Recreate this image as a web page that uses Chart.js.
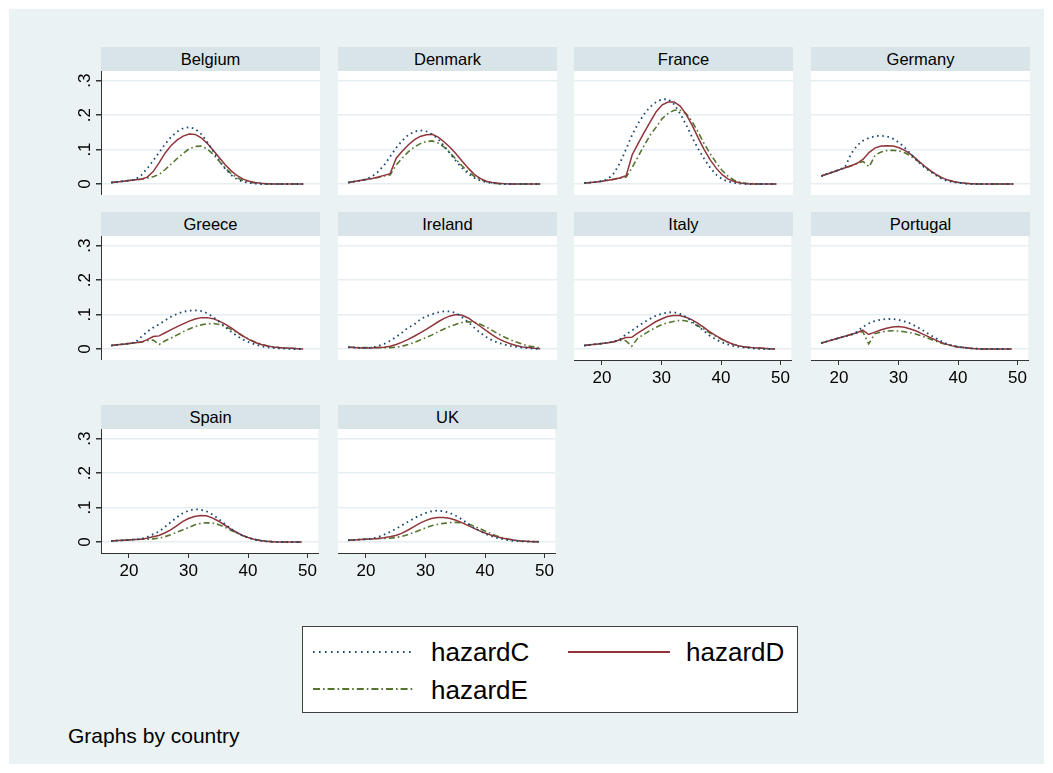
<!DOCTYPE html>
<html>
<head>
<meta charset="utf-8">
<title>hazard by country</title>
<script src="https://cdn.jsdelivr.net/npm/chart.js@4.4.1/dist/chart.umd.min.js"></script>
<style>
    body { margin: 0; background: #ffffff; font-family: "Liberation Sans", Arial, sans-serif; }
    #frame { position: absolute; left: 9px; top: 9px; width: 1035px; height: 755px; background: #eaf2f3; }
    .strip { position: absolute; height: 24px; line-height: 24px; background: #d9e4e9; color: #000; font-size: 16.5px; font-weight: normal; text-align: center; }
    canvas.panel { position: absolute; }
    #legend { position: absolute; left: 302px; top: 626px; width: 494px; height: 85px; background: #fff; border: 1px solid #404040; }
    .key { position: absolute; font-size: 26px; line-height: 30px; color: #000; }
    #note { position: absolute; left: 68px; top: 724px; font-size: 21px; line-height: 24px; color: #000; }
</style>
</head>
<body>
<div id="frame"></div>
<div id="panels"></div>
<div id="legend">
    <svg width="494" height="85" style="position:absolute;left:0;top:0">
        <line x1="10" y1="25" x2="112" y2="25" stroke="#1a476f" stroke-width="2" stroke-dasharray="1.6 4.4"></line>
        <line x1="265" y1="25" x2="367" y2="25" stroke="#90353b" stroke-width="2"></line>
        <line x1="10" y1="62" x2="112" y2="62" stroke="#55752f" stroke-width="2" stroke-dasharray="7 3 1.6 3"></line>
    </svg>
    <div class="key" style="left:128px;top:10px">hazardC</div>
    <div class="key" style="left:383px;top:10px">hazardD</div>
    <div class="key" style="left:128px;top:48px">hazardE</div>
</div>
<div id="note">Graphs by country</div>

<script>
Chart.defaults.font.family = '"Liberation Sans", Arial, sans-serif';

const ages = [17, 18, 19, 20, 21, 22, 23, 24, 25, 26, 27, 28, 29, 30, 31, 32, 33,
    34, 35, 36, 37, 38, 39, 40, 41, 42, 43, 44, 45, 46, 47, 48, 49];
const xTicks = [20, 30, 40, 50];
const yTicks = [0, 0.1, 0.2, 0.3];
const yTickLabels = ['0', '.1', '.2', '.3'];
const countries = ['Belgium', 'Denmark', 'France', 'Germany', 'Greece',
    'Ireland', 'Italy', 'Portugal', 'Spain', 'UK'];
const seriesNames = ['hazardC', 'hazardD', 'hazardE'];

// ages 17-27 / 28-38 / 39-49
const belgiumC = [.004, .006, .008, .010, .013, .025, .045, .068, .092, .116, .137,
    .152, .162, .165, .160, .145, .122, .095, .068, .044, .026, .013,
    .006, .003, .001, 0, 0, 0, 0, 0, 0, 0, 0];
const belgiumD = [.004, .006, .008, .010, .012, .014, .020, .036, .062, .090, .112,
    .128, .139, .145, .144, .134, .118, .098, .077, .056, .038, .024,
    .014, .008, .004, .002, .001, 0, 0, 0, 0, 0, 0];
const belgiumE = [.004, .006, .008, .010, .012, .014, .017, .021, .028, .042, .058,
    .074, .089, .102, .109, .110, .102, .086, .066, .046, .030, .018,
    .010, .005, .003, .001, 0, 0, 0, 0, 0, 0, 0];

const denmarkC = [.004, .007, .010, .014, .022, .036, .055, .080, .105, .126, .142,
    .152, .156, .153, .144, .130, .110, .088, .066, .046, .030, .018,
    .010, .005, .002, .001, 0, 0, 0, 0, 0, 0, 0];
const denmarkD = [.004, .007, .010, .013, .016, .020, .025, .030, .075, .095, .113,
    .128, .138, .143, .144, .136, .122, .106, .087, .066, .046, .028,
    .016, .008, .004, .002, .001, 0, 0, 0, 0, 0, 0];
const denmarkE = [.004, .007, .010, .013, .016, .019, .023, .027, .055, .075, .093,
    .107, .117, .123, .125, .119, .107, .090, .071, .052, .035, .022,
    .013, .007, .003, .001, 0, 0, 0, 0, 0, 0, 0];

const franceC = [.003, .004, .006, .009, .015, .032, .062, .102, .143, .176, .203,
    .224, .238, .246, .246, .231, .204, .172, .135, .102, .073, .047,
    .027, .014, .007, .003, .001, 0, 0, 0, 0, 0, 0];
const franceD = [.003, .004, .006, .008, .011, .014, .018, .024, .085, .118, .150,
    .180, .210, .230, .238, .238, .226, .202, .170, .134, .100, .070,
    .046, .027, .014, .007, .003, .001, 0, 0, 0, 0, 0];
const franceE = [.003, .004, .006, .008, .011, .014, .017, .020, .048, .080, .112,
    .142, .165, .190, .205, .214, .214, .204, .181, .150, .117, .088,
    .062, .039, .022, .011, .005, .002, .001, 0, 0, 0, 0];

const germanyC = [.023, .029, .035, .041, .050, .088, .112, .126, .134, .139, .140,
    .138, .131, .120, .104, .086, .068, .051, .038, .026, .016, .009,
    .005, .003, .001, 0, 0, 0, 0, 0, 0, 0, 0];
const germanyD = [.023, .029, .035, .041, .047, .053, .060, .072, .092, .105, .110,
    .111, .110, .105, .097, .085, .070, .055, .041, .029, .019, .012,
    .007, .004, .002, .001, 0, 0, 0, 0, 0, 0, 0];
const germanyE = [.023, .029, .035, .041, .047, .053, .060, .065, .050, .084, .093,
    .097, .098, .096, .090, .080, .068, .054, .041, .029, .019, .012,
    .007, .004, .002, .001, 0, 0, 0, 0, 0, 0, 0];

const greeceC = [.010, .012, .014, .016, .019, .035, .050, .062, .072, .083, .094,
    .102, .108, .111, .112, .110, .104, .093, .079, .064, .050, .037,
    .027, .019, .013, .008, .005, .003, .002, .001, 0, 0, 0];
const greeceD = [.010, .012, .014, .016, .018, .020, .027, .036, .038, .047, .056,
    .065, .073, .081, .087, .091, .091, .088, .081, .072, .061, .049,
    .037, .027, .019, .013, .009, .006, .004, .003, .002, .001, 0];
const greeceE = [.010, .012, .014, .016, .018, .020, .024, .026, .013, .024, .032,
    .041, .050, .058, .065, .070, .073, .074, .071, .065, .057, .047,
    .037, .028, .020, .014, .009, .006, .004, .003, .002, .001, 0];

const irelandC = [.005, .004, .003, .003, .004, .009, .015, .024, .035, .048, .062,
    .071, .086, .095, .101, .106, .109, .109, .104, .092, .078, .062,
    .047, .035, .025, .018, .013, .009, .006, .004, .002, .001, 0];
const irelandD = [.005, .004, .003, .003, .003, .004, .005, .008, .013, .020, .028,
    .037, .047, .057, .068, .079, .089, .096, .100, .098, .090, .078,
    .066, .053, .041, .030, .022, .015, .010, .006, .004, .002, .001];
const irelandE = [.005, .005, .004, .004, .004, .004, .004, .004, .005, .008, .013,
    .019, .026, .033, .041, .050, .058, .066, .072, .077, .079, .078,
    .072, .064, .054, .044, .035, .027, .020, .014, .009, .006, .003];

const italyC = [.010, .012, .014, .016, .018, .021, .028, .042, .053, .065, .077,
    .087, .096, .102, .106, .107, .103, .094, .082, .068, .054, .040,
    .029, .020, .014, .009, .006, .004, .002, .001, 0, 0, 0];
const italyD = [.010, .012, .014, .016, .018, .021, .027, .033, .034, .046, .057,
    .068, .079, .087, .094, .097, .097, .093, .086, .076, .064, .051,
    .040, .030, .021, .014, .009, .006, .004, .003, .002, .001, 0];
const italyE = [.010, .012, .014, .016, .018, .021, .025, .024, .008, .031, .042,
    .053, .062, .070, .076, .080, .083, .082, .077, .068, .059, .048,
    .038, .029, .021, .014, .009, .006, .004, .003, .002, .001, 0];

const portugalC = [.017, .022, .027, .032, .037, .040, .050, .064, .074, .081, .085,
    .087, .087, .085, .080, .074, .065, .055, .044, .034, .024, .016,
    .010, .006, .004, .002, .001, 0, 0, 0, 0, 0, 0];
const portugalD = [.017, .022, .027, .032, .037, .042, .047, .055, .042, .049, .055,
    .060, .064, .065, .063, .058, .052, .044, .036, .028, .020, .014,
    .009, .006, .004, .002, .001, 0, 0, 0, 0, 0, 0];
const portugalE = [.017, .022, .027, .032, .037, .042, .046, .050, .015, .044, .049,
    .052, .053, .052, .050, .047, .043, .037, .031, .024, .018, .013,
    .009, .006, .004, .002, .001, 0, 0, 0, 0, 0, 0];

const spainC = [.003, .004, .005, .006, .007, .009, .014, .022, .030, .043, .057,
    .071, .083, .091, .095, .094, .089, .080, .068, .054, .040, .028,
    .019, .012, .007, .004, .002, .001, 0, 0, 0, 0, 0];
const spainD = [.003, .004, .005, .006, .007, .008, .011, .015, .019, .026, .035,
    .047, .059, .068, .074, .077, .076, .070, .061, .050, .039, .029,
    .020, .013, .008, .004, .002, .001, 0, 0, 0, 0, 0];
const spainE = [.003, .004, .005, .006, .007, .008, .008, .009, .011, .015, .021,
    .028, .035, .042, .049, .054, .056, .055, .051, .044, .035, .027,
    .019, .013, .008, .005, .003, .001, 0, 0, 0, 0, 0];

const ukC = [.005, .006, .007, .008, .010, .014, .021, .029, .038, .048, .058,
    .068, .077, .084, .089, .091, .089, .085, .077, .067, .055, .043,
    .033, .024, .017, .012, .008, .005, .003, .002, .001, .001, 0];
const ukD = [.005, .006, .007, .008, .009, .010, .012, .015, .019, .025, .034,
    .044, .054, .062, .068, .071, .071, .069, .064, .057, .049, .041,
    .033, .026, .020, .015, .011, .008, .005, .003, .002, .001, .001];
const ukE = [.005, .006, .007, .008, .009, .010, .010, .011, .013, .016, .021,
    .027, .034, .041, .047, .051, .054, .056, .057, .056, .053, .047,
    .040, .032, .024, .017, .012, .008, .005, .003, .002, .001, .001];

const countrySeries = [
    [belgiumC, belgiumD, belgiumE],
    [denmarkC, denmarkD, denmarkE],
    [franceC, franceD, franceE],
    [germanyC, germanyD, germanyE],
    [greeceC, greeceD, greeceE],
    [irelandC, irelandD, irelandE],
    [italyC, italyD, italyE],
    [portugalC, portugalD, portugalE],
    [spainC, spainD, spainE],
    [ukC, ukD, ukE],
];

// layout of the 4-column grid
const colLeft = [101, 338, 574, 811];
const stripTop = [47, 212, 405];
const panelW = 219;
const plotH = 124;
const yAxisW = 41;
const xAxisH = 32;
const lineStyles = [
    { borderColor: '#1a476f', borderDash: [1.6, 3.6], borderWidth: 1.8 },
    { borderColor: '#90353b', borderDash: [], borderWidth: 1.5 },
    { borderColor: '#55752f', borderDash: [6, 3, 1.6, 3], borderWidth: 1.6 },
];

const plotBackground = {
    id: 'plotBackground',
    beforeDraw(chart) {
        const { ctx, chartArea: a } = chart;
        ctx.save();
        ctx.fillStyle = '#ffffff';
        ctx.fillRect(a.left, a.top, a.right - a.left, a.bottom - a.top);
        ctx.restore();
    },
};

// Stata style rotated y labels
const rotatedYLabels = {
    id: 'rotatedYLabels',
    afterDraw(chart, args, opts) {
        if (!opts.show) return;
        const { ctx, chartArea: a } = chart;
        const y = chart.scales.y;
        ctx.save();
        ctx.fillStyle = '#000';
        ctx.font = '17px "Liberation Sans", Arial, sans-serif';
        ctx.textAlign = 'center';
        ctx.textBaseline = 'alphabetic';
        yTicks.forEach((v, i) => {
            ctx.save();
            ctx.translate(a.left - 11, y.getPixelForValue(v));
            ctx.rotate(-Math.PI / 2);
            ctx.fillText(yTickLabels[i], 0, 0);
            ctx.restore();
        });
        ctx.restore();
    },
};

function lastInColumn(i) {
    return i + 4 >= countries.length;
}

function makePanel(i) {
    const col = i % 4;
    const row = Math.floor(i / 4);
    const hasY = col === 0;
    const hasX = lastInColumn(i);
    const root = document.getElementById('panels');

    const strip = document.createElement('div');
    strip.className = 'strip';
    strip.style.left = colLeft[col] + 'px';
    strip.style.top = stripTop[row] + 'px';
    strip.style.width = panelW + 'px';
    strip.textContent = countries[i];
    root.appendChild(strip);

    const canvas = document.createElement('canvas');
    canvas.className = 'panel';
    const w = panelW + (hasY ? yAxisW : 0);
    const h = plotH + (hasX ? xAxisH : 0);
    canvas.width = w;
    canvas.height = h;
    canvas.style.left = (colLeft[col] - (hasY ? yAxisW : 0)) + 'px';
    canvas.style.top = (stripTop[row] + 24) + 'px';
    root.appendChild(canvas);

    new Chart(canvas, {
        type: 'line',
        data: {
            datasets: countrySeries[i].map((vals, s) => ({
                label: seriesNames[s],
                data: ages.map((a, k) => ({ x: a, y: vals[k] })),
                ...lineStyles[s],
                pointRadius: 0,
                tension: 0,
                fill: false,
            })),
        },
        options: {
            responsive: false,
            animation: false,
            devicePixelRatio: 1,
            layout: { padding: 0 },
            plugins: {
                legend: { display: false },
                tooltip: { enabled: false },
                rotatedYLabels: { show: hasY },
            },
            scales: {
                x: {
                    type: 'linear',
                    min: 15.3,
                    max: 51.8,
                    display: hasX,
                    afterBuildTicks: (scale) => { scale.ticks = xTicks.map((v) => ({ value: v })); },
                    afterFit: (scale) => { scale.height = hasX ? xAxisH : 0; },
                    grid: { drawOnChartArea: false, drawTicks: true, tickLength: 5, tickColor: '#333' },
                    border: { display: true, color: '#333', width: 1 },
                    ticks: { color: '#000', font: { size: 17 }, padding: 3, maxRotation: 0 },
                },
                y: {
                    type: 'linear',
                    min: -0.032,
                    max: 0.328,
                    afterBuildTicks: (scale) => { scale.ticks = yTicks.map((v) => ({ value: v })); },
                    afterFit: (scale) => { scale.width = hasY ? yAxisW : 0; },
                    grid: { color: '#e6eef1', lineWidth: 1.5, drawTicks: hasY, tickLength: 5, tickColor: '#333' },
                    border: { display: hasY, color: '#333', width: 1 },
                    ticks: { display: false },
                },
            },
        },
        plugins: [plotBackground, rotatedYLabels],
    });
}

countries.forEach((c, i) => makePanel(i));
</script>
</body>
</html>
